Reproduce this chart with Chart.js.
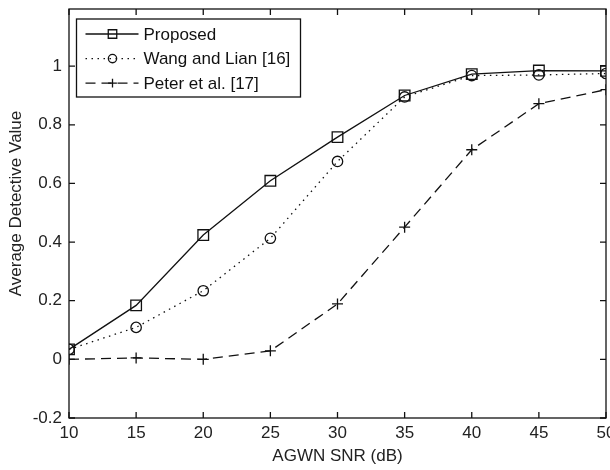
<!DOCTYPE html>
<html>
<head>
<meta charset="utf-8">
<script src="https://cdn.jsdelivr.net/npm/chart.js@4"></script>
<style>
  html, body { margin: 0; padding: 0; background: #fff; }
  #wrap { width: 610px; height: 470px; }
</style>
</head>
<body>
<div id="wrap"><canvas id="chart" width="610" height="470"></canvas></div>
<script>
const snr = [10, 15, 20, 25, 30, 35, 40, 45, 50];
const proposed = [0.034, 0.184, 0.424, 0.609, 0.758, 0.900, 0.973, 0.985, 0.984];
const wangLian = [0.034, 0.109, 0.234, 0.413, 0.675, 0.895, 0.968, 0.970, 0.975];
const peter = [0.000, 0.005, 0.000, 0.029, 0.189, 0.451, 0.715, 0.872, 0.920];
const seriesNames = ["Proposed", "Wang and Lian [16]", "Peter et al. [17]"];
const xTitle = "AGWN SNR (dB)";
const yTitle = "Average Detective Value";

const FONT = "'Liberation Sans', Arial, sans-serif";
const toPoints = (arr) => arr.map((v, i) => ({ x: snr[i], y: v }));

// frame round the plot with inward ticks on all four sides, plus y title
const framePlugin = {
  id: "frame",
  afterDraw(chart) {
    const { ctx, chartArea: a, scales } = chart;
    ctx.save();
    ctx.strokeStyle = "#111";
    ctx.lineWidth = 1.3;
    ctx.strokeRect(a.left, a.top, a.right - a.left, a.bottom - a.top);
    const len = 6;
    ctx.beginPath();
    scales.x.ticks.forEach((t) => {
      const px = scales.x.getPixelForValue(t.value);
      ctx.moveTo(px, a.bottom); ctx.lineTo(px, a.bottom - len);
      ctx.moveTo(px, a.top); ctx.lineTo(px, a.top + len);
    });
    scales.y.ticks.forEach((t) => {
      const py = scales.y.getPixelForValue(t.value);
      ctx.moveTo(a.left, py); ctx.lineTo(a.left + len, py);
      ctx.moveTo(a.right, py); ctx.lineTo(a.right - len, py);
    });
    ctx.stroke();

    // y title sits a bit above the middle of the axis in the original
    ctx.translate(16, (a.top + a.bottom) / 2 - 10);
    ctx.rotate(-Math.PI / 2);
    ctx.fillStyle = "#222";
    ctx.font = "17px " + FONT;
    ctx.textAlign = "center";
    ctx.textBaseline = "middle";
    ctx.fillText(yTitle, 0, 0);
    ctx.restore();
  }
};

function drawMarker(ctx, ds, x, y, k) {
  ctx.save();
  ctx.lineWidth = ds.pointBorderWidth;
  ctx.strokeStyle = ds.pointBorderColor;
  ctx.setLineDash([]);
  const r = ds.pointRadius * k;
  ctx.beginPath();
  if (ds.pointStyle === "rect") {
    const s = Math.SQRT1_2 * r;
    ctx.rect(x - s, y - s, 2 * s, 2 * s);
  } else if (ds.pointStyle === "circle") {
    ctx.arc(x, y, r, 0, Math.PI * 2);
  } else {
    ctx.moveTo(x - r, y); ctx.lineTo(x + r, y);
    ctx.moveTo(x, y - r); ctx.lineTo(x, y + r);
  }
  ctx.stroke();
  ctx.restore();
}

// MATLAB style legend box inside the plot
const legendPlugin = {
  id: "boxLegend",
  afterDraw(chart) {
    const { ctx, chartArea: a } = chart;
    const left = a.left + 7.5, top = a.top + 10, w = 224, h = 78;
    ctx.save();
    ctx.fillStyle = "#fff";
    ctx.fillRect(left, top, w, h);
    ctx.strokeStyle = "#111";
    ctx.lineWidth = 1.3;
    ctx.strokeRect(left, top, w, h);
    chart.data.datasets.forEach((ds, i) => {
      const y = top + 15 + i * 24.6;
      ctx.save();
      ctx.strokeStyle = ds.borderColor;
      ctx.lineWidth = ds.borderWidth;
      ctx.setLineDash(ds.borderDash || []);
      ctx.beginPath();
      ctx.moveTo(left + 9, y);
      ctx.lineTo(left + 62, y);
      ctx.stroke();
      ctx.restore();
      drawMarker(ctx, ds, left + 36, y, 0.8);
      ctx.fillStyle = "#111";
      ctx.font = "17px " + FONT;
      ctx.textBaseline = "middle";
      ctx.fillText(ds.label, left + 67, y + 1);
    });
    ctx.restore();
  }
};

const keepFifths = (scale) => {
  scale.ticks = scale.ticks.filter((t) => Math.abs(t.value * 5 - Math.round(t.value * 5)) < 1e-6);
};

new Chart(document.getElementById("chart"), {
  type: "line",
  data: {
    datasets: [
      {
        label: seriesNames[0],
        data: toPoints(proposed),
        borderColor: "#111",
        borderWidth: 1.3,
        pointStyle: "rect",
        pointRadius: 7.5,
        pointBorderWidth: 1.3,
        pointBorderColor: "#111",
        pointBackgroundColor: "transparent"
      },
      {
        label: seriesNames[1],
        data: toPoints(wangLian),
        borderColor: "#111",
        borderWidth: 1.3,
        borderDash: [1.5, 4.5],
        pointStyle: "circle",
        pointRadius: 5.2,
        pointBorderWidth: 1.3,
        pointBorderColor: "#111",
        pointBackgroundColor: "transparent"
      },
      {
        label: seriesNames[2],
        data: toPoints(peter),
        borderColor: "#111",
        borderWidth: 1.3,
        borderDash: [10, 6],
        pointStyle: "cross",
        pointRadius: 5.5,
        pointBorderWidth: 1.3,
        pointBorderColor: "#111",
        pointBackgroundColor: "transparent"
      }
    ]
  },
  options: {
    responsive: false,
    animation: false,
    layout: { autoPadding: false, padding: { top: 9, right: 4, left: 0, bottom: 0 } },
    plugins: { legend: { display: false }, tooltip: { enabled: false } },
    scales: {
      x: {
        type: "linear",
        min: 10,
        max: 50,
        grid: { display: false, drawTicks: false },
        border: { display: false },
        ticks: { stepSize: 5, padding: 5, color: "#222", font: { family: FONT, size: 17 } },
        title: {
          display: true,
          text: xTitle,
          color: "#222",
          font: { family: FONT, size: 17 },
          padding: { top: 0, bottom: 3 }
        },
        afterFit(scale) {
          scale.height = 52;
          scale.paddingLeft = 0;
          scale.paddingRight = 0;
        }
      },
      y: {
        min: -0.2,
        max: 1.195,
        grid: { display: false, drawTicks: false },
        border: { display: false },
        afterBuildTicks: keepFifths,
        ticks: {
          stepSize: 0.2,
          padding: 7,
          color: "#222",
          font: { family: FONT, size: 17 },
          callback: (v) => String(Number(v.toFixed(1)))
        },
        title: { display: false },
        afterFit(scale) {
          scale.width = 69;
          scale.paddingTop = 0;
          scale.paddingBottom = 0;
        }
      }
    }
  },
  plugins: [framePlugin, legendPlugin]
});
</script>
</body>
</html>
